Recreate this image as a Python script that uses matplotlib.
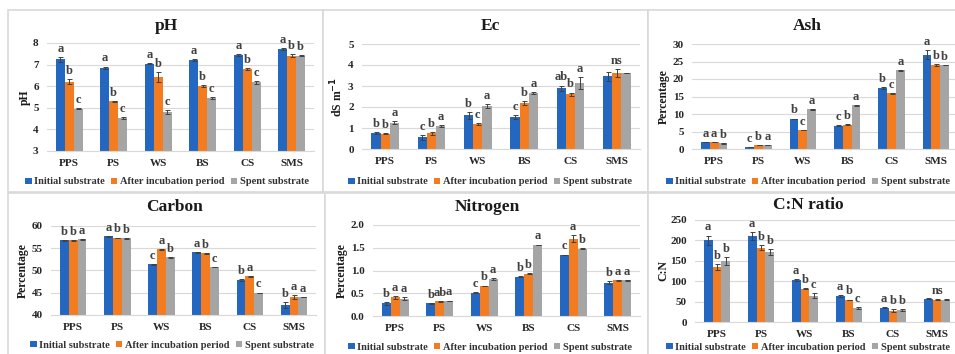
import matplotlib
matplotlib.use("Agg")
import matplotlib.pyplot as plt
from matplotlib.patches import Rectangle, Patch
import numpy as np

plt.rcParams['font.family'] = ['Liberation Serif', 'DejaVu Serif']
plt.rcParams['font.weight'] = 'bold'

categories = ["PPS", "PS", "WS", "BS", "CS", "SMS"]
series_names = ["Initial substrate", "After incubation period", "Spent substrate"]
colors = ["#2467C1", "#F47C20", "#A5A5A5"]

ph_init = [7.25, 6.85, 7.05, 7.20, 7.45, 7.72]
ph_after = [6.20, 5.30, 6.42, 6.00, 6.78, 7.42]
ph_spent = [4.95, 4.52, 4.80, 5.45, 6.18, 7.42]
ph_err = [[0.12, 0.06, 0.03, 0.04, 0.06, 0.03],
          [0.12, 0.03, 0.22, 0.04, 0.05, 0.08],
          [0.02, 0.05, 0.08, 0.05, 0.07, 0.02]]
ph_letters = [["a", "b", "c"], ["a", "b", "c"], ["a", "b", "c"],
              ["a", "b", "c"], ["a", "b", "c"], ["a", "b", "b"]]

ec_init = [0.75, 0.55, 1.60, 1.52, 2.90, 3.47]
ec_after = [0.72, 0.75, 1.19, 2.20, 2.61, 3.62]
ec_spent = [1.25, 1.10, 2.05, 2.66, 3.14, 3.62]
ec_err = [[0.05, 0.10, 0.15, 0.10, 0.12, 0.22],
          [0.02, 0.06, 0.06, 0.10, 0.08, 0.20],
          [0.06, 0.04, 0.10, 0.05, 0.30, 0.00]]
ec_letters = [["b", "b", "a"], ["c", "b", "a"], ["b", "c", "a"],
              ["c", "b", "a"], ["ab", "b", "a"], ["", "ns", ""]]

ash_init = [2.0, 0.5, 8.6, 6.7, 17.5, 27.0]
ash_after = [2.0, 1.1, 5.4, 7.0, 15.9, 24.0]
ash_spent = [1.6, 1.2, 11.3, 12.5, 22.5, 24.0]
ash_err = [[0.1, 0.05, 0.1, 0.1, 0.3, 1.2],
           [0.1, 0.05, 0.1, 0.1, 0.15, 0.15],
           [0.1, 0.05, 0.1, 0.1, 0.15, 0.1]]
ash_letters = [["a", "a", "b"], ["c", "b", "a"], ["b", "c", "a"],
               ["c", "b", "a"], ["b", "c", "a"], ["a", "b", "b"]]

c_init = [56.8, 57.7, 51.4, 54.1, 47.9, 42.3]
c_after = [56.8, 57.3, 54.8, 53.9, 48.7, 44.0]
c_spent = [57.0, 57.2, 53.0, 50.8, 45.0, 44.0]
c_err = [[0.1, 0.1, 0.1, 0.1, 0.2, 0.7],
         [0.1, 0.1, 0.1, 0.1, 0.1, 0.4],
         [0.1, 0.1, 0.1, 0.05, 0.05, 0.05]]
c_letters = [["b", "b", "a"], ["a", "b", "b"], ["c", "a", "b"],
             ["a", "b", "c"], ["b", "a", "c"], ["b", "a", "a"]]

n_init = [0.28, 0.28, 0.51, 0.86, 1.34, 0.73]
n_after = [0.41, 0.32, 0.66, 0.93, 1.70, 0.79]
n_spent = [0.38, 0.33, 0.81, 1.56, 1.48, 0.79]
n_err = [[0.03, 0.01, 0.01, 0.01, 0.01, 0.03],
         [0.03, 0.01, 0.01, 0.01, 0.08, 0.01],
         [0.03, 0.01, 0.02, 0.01, 0.01, 0.01]]
n_letters = [["b", "a", "a"], ["b", "ab", "a"], ["c", "b", "a"],
             ["b", "b", "a"], ["c", "a", "b"], ["b", "a", "a"]]

cn_init = [200, 210, 103, 63, 35, 57]
cn_after = [135, 182, 82, 54, 28, 55]
cn_spent = [149, 171, 64, 34, 29, 55]
cn_err = [[12, 10, 2, 2, 1, 1],
          [8, 6, 2, 1, 3, 1],
          [10, 7, 6, 2, 2, 1]]
cn_letters = [["a", "b", "b"], ["a", "b", "b"], ["a", "b", "c"],
              ["a", "b", "c"], ["a", "b", "b"], ["", "ns", ""]]

W, H = 955, 354
fig = plt.figure(figsize=(W / 100, H / 100), dpi=100)

def fx(x):
    return x / W

def fy(y):
    return 1 - y / H

# panel frames
frames = [(8, 10, 323, 192), (323, 10, 648, 192), (648, 10, 960, 192),
          (8, 193, 325, 360), (325, 193, 648, 360), (648, 193, 960, 360)]
for (x0, y0, x1, y1) in frames:
    fig.patches.append(Rectangle((fx(x0), fy(y1)), fx(x1 - x0), (y1 - y0) / H,
                                 transform=fig.transFigure, facecolor="white",
                                 edgecolor="#D9D9D9", linewidth=1.2, zorder=-1))

panels = [
    dict(title="pH", ylabel="pH", data=[ph_init, ph_after, ph_spent], err=ph_err,
         letters=ph_letters, ylim=(3, 8), yticks=[3, 4, 5, 6, 7, 8], fmt="{:.0f}",
         box=(47, 43, 314, 151), title_y=26, title_x=166, ylab_x=25, leg_y=182, leg_x=167),
    dict(title="Ec", ylabel="dS m$^{\\mathbf{-1}}$", data=[ec_init, ec_after, ec_spent], err=ec_err,
         letters=ec_letters, ylim=(0, 5), yticks=[0, 1, 2, 3, 4, 5], fmt="{:.0f}",
         box=(362, 44, 640, 149), title_y=26, title_x=490, ylab_x=337, leg_y=182, leg_x=490),
    dict(title="Ash", ylabel="Percentage", data=[ash_init, ash_after, ash_spent], err=ash_err,
         letters=ash_letters, ylim=(0, 30), yticks=[0, 5, 10, 15, 20, 25, 30], fmt="{:.0f}",
         box=(692, 44, 958, 149), title_y=26, title_x=807, ylab_x=664, leg_y=182, leg_x=808),
    dict(title="Carbon", ylabel="Percentage", data=[c_init, c_after, c_spent], err=c_err,
         letters=c_letters, ylim=(40, 60), yticks=[40, 45, 50, 55, 60], fmt="{:.0f}",
         box=(51, 226, 316, 315), title_y=207, title_x=174, ylab_x=23, leg_y=345, leg_x=172),
    dict(title="Nitrogen", ylabel="Percentage", data=[n_init, n_after, n_spent], err=n_err,
         letters=n_letters, ylim=(0, 2), yticks=[0, 0.5, 1.0, 1.5, 2.0], fmt="{:.1f}",
         box=(373, 225, 640, 316), title_y=207, title_x=487, ylab_x=342, leg_y=347, leg_x=490),
    dict(title="C:N ratio", ylabel="C:N", data=[cn_init, cn_after, cn_spent], err=cn_err,
         letters=cn_letters, ylim=(0, 250), yticks=[0, 50, 100, 150, 200, 250], fmt="{:.0f}",
         box=(695, 220, 959, 322), title_y=205, title_x=808, ylab_x=663, leg_y=347, leg_x=808),
]

x = np.arange(len(categories))
bw = 0.2
for p in panels:
    x0, y0, x1, y1 = p["box"]
    ax = fig.add_axes([fx(x0), fy(y1), fx(x1 - x0), (y1 - y0) / H])
    ax.set_facecolor("none")
    lo, hi = p["ylim"]
    for i, (vals, col) in enumerate(zip(p["data"], colors)):
        xs = x + (i - 1) * bw
        bottoms = [lo] * len(vals)
        heights = [v - lo for v in vals]
        ax.bar(xs, heights, bw, bottom=bottoms, color=col, zorder=2)
        ax.errorbar(xs, vals, yerr=p["err"][i], fmt="none", ecolor="#404040",
                    elinewidth=0.7, capsize=1.8, capthick=0.7, zorder=3)
        for j, v in enumerate(vals):
            lab = p["letters"][j][i]
            if lab:
                ax.annotate(lab, (xs[j], v + p["err"][i][j]), xytext=(0, 1.5),
                            textcoords="offset points", ha="center", va="bottom",
                            fontsize=9, fontweight="bold", color="#404040")
    ax.set_xlim(-0.5, len(categories) - 0.5)
    ax.set_ylim(lo, hi)
    ax.set_yticks(p["yticks"])
    ax.set_yticklabels([p["fmt"].format(t) for t in p["yticks"]])
    ax.set_xticks(x)
    ax.set_xticklabels(categories)
    ax.tick_params(axis="both", length=0, labelsize=8, colors="#262626", pad=6)
    for lbl in ax.get_xticklabels() + ax.get_yticklabels():
        lbl.set_fontweight("bold")
    ax.grid(axis="y", color="#D9D9D9", linewidth=0.8, zorder=0)
    ax.set_axisbelow(True)
    for s in ["left", "right", "top"]:
        ax.spines[s].set_visible(False)
    ax.spines["bottom"].set_color("#D9D9D9")
    ax.spines["bottom"].set_linewidth(0.8)
    fig.text(fx(p["title_x"]), fy(p["title_y"]), p["title"], ha="center", va="center",
             fontsize=12.5, fontweight="bold", color="#1a1a1a")
    fig.text(fx(p["ylab_x"]), (fy(y0) + fy(y1)) / 2, p["ylabel"], rotation=90,
             ha="center", va="center", fontsize=8.5, fontweight="bold", color="#1a1a1a")
    handles = [Patch(facecolor=c, edgecolor="none") for c in colors]
    fig.legend(handles, series_names, loc="center", ncol=3,
               bbox_to_anchor=(fx(p["leg_x"]), fy(p["leg_y"])), frameon=False,
               prop=dict(family="Liberation Serif", weight="bold", size=7.5),
               handlelength=0.6, handleheight=0.6, handletextpad=0.25,
               columnspacing=0.6, borderpad=0, labelcolor="#333333")

fig.savefig("out.png", dpi=100)
